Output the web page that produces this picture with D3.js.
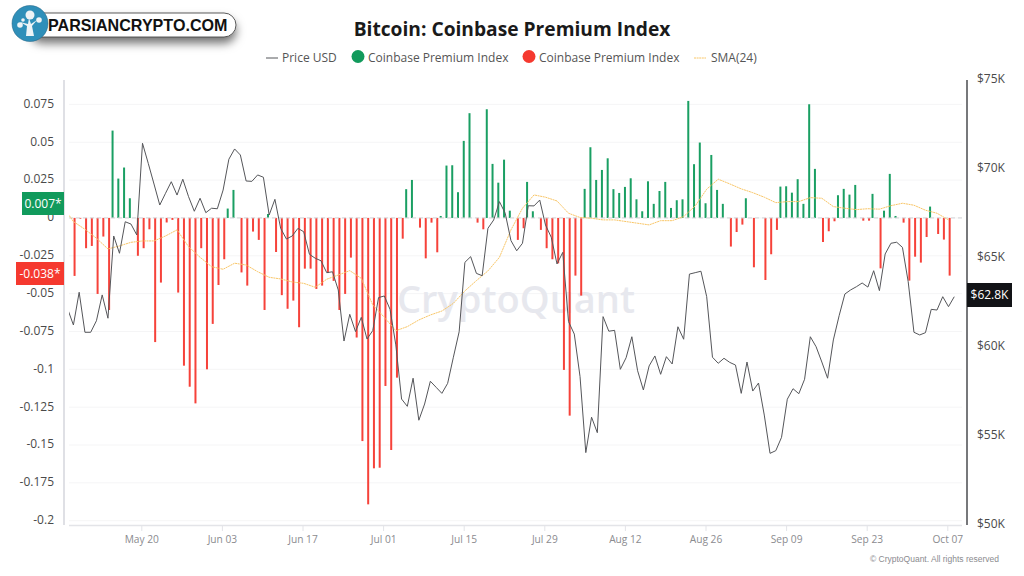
<!DOCTYPE html>
<html>
<head>
<meta charset="utf-8">
<script src="https://cdn.jsdelivr.net/npm/d3@7"></script>
<style>
  html, body { margin: 0; padding: 0; background: #fff; }
  text { font-family: "Open Sans", sans-serif; }
</style>
</head>
<body>
<svg width="1024" height="576"></svg>
<script>
var leftTicks = [0.075, 0.05, 0.025, 0, -0.025, -0.05, -0.075, -0.1, -0.125, -0.15, -0.175, -0.2];
var priceTicks = [75, 70, 65, 60, 55, 50];
var dateTicks = ["2024-05-20", "2024-06-03", "2024-06-17", "2024-07-01", "2024-07-15", "2024-07-29",
                 "2024-08-12", "2024-08-26", "2024-09-09", "2024-09-23", "2024-10-07"];

// daily, first value is May 08
var premium = [
  -0.0383, -0.0005, -0.02, -0.0185, -0.0502, -0.0123, -0.0608, 0.0577, 0.026, 0.0333,
  0.013, -0.025, -0.02, -0.0075, -0.082, -0.0427, -0.003, -0.0013, -0.0493, -0.0976,
  -0.1115, -0.1225, -0.02, -0.1, -0.07, -0.0443, -0.0273, 0.0062, 0.0185, -0.036,
  -0.0447, -0.009, -0.0145, -0.0608, 0.0026, -0.0225, -0.051, -0.06, -0.0546, -0.0722,
  -0.0335, -0.0335, -0.0469, -0.0447, -0.0364, -0.0416, -0.0608, -0.0502, -0.0262, -0.079,
  -0.1474, -0.1892, -0.1654, -0.165, -0.111, -0.1533, -0.1055, -0.0137, 0.019, 0.0251,
  -0.0064, -0.0267, -0.0031, -0.0227, 0.0013, 0.0346, 0.0348, 0.017, 0.0509, 0.0692,
  -0.0031, -0.0075, 0.0718, 0.0357, 0.0233, 0.0385, 0.0048, -0.0145, -0.0068, 0.0238,
  0.0044, -0.0079, -0.02, -0.0273, -0.03, -0.1004, -0.1306, -0.0381, -0.0513, 0.0192,
  0.0467, 0.0251, 0.0317, 0.0394, 0.019, 0.0165, 0.0205, 0.0262, 0.0123, 0.0044,
  0.0242, 0.0093, 0.0178, 0.0238, 0.0066, 0.0117, 0.0123, 0.0773, 0.0355, 0.0498,
  0.0097, 0.0416, 0.0185, 0.0093, -0.0189, -0.0093, -0.0044, 0.013, -0.0326, 0,
  -0.041, -0.024, -0.0079, 0.0207, 0.0209, 0.0167, 0.0256, 0.0093, 0.0751, 0.0324,
  -0.0159, -0.0088, -0.0022, 0.015, 0.0192, 0.0154, 0.0218, -0.0018, -0.0018, 0.0159,
  -0.0333, 0.0048, 0.0291, 0.0013, -0.0031, -0.0414, -0.0256, -0.0295, -0.0126, 0.0075,
  -0.0106, -0.0143, -0.0381
];

// daily in $K, first value is May 07
var price = [
  62.08, 61.18, 63.02, 60.77, 60.77, 61.42, 62.87, 61.56, 66.18, 65.21,
  66.98, 66.85, 66.24, 71.39, 70.26, 69.1, 67.92, 68.58, 69.23, 68.48,
  69.37, 68.39, 67.57, 68.3, 67.49, 67.74, 67.71, 68.76, 70.49, 71.07,
  70.73, 69.27, 69.25, 69.61, 69.48, 67.36, 68.24, 66.61, 66.01, 66.18,
  66.61, 66.42, 65.15, 64.93, 64.79, 64.12, 64.17, 63.15, 60.28, 61.78,
  60.81, 61.61, 60.39, 60.87, 62.72, 62.81, 62.06, 60.06, 57.02, 56.61,
  58.19, 55.83, 56.74, 58.02, 57.68, 57.34, 57.9, 59.37, 60.8, 64.7,
  65.02, 64.08, 63.95, 66.61, 67.08, 68.11, 67.46, 65.92, 65.35, 65.77,
  67.88, 67.87, 68.2, 66.8, 66.11, 64.61, 65.26, 61.37, 60.67, 58.28,
  54.01, 56, 55.13, 61.65, 60.83, 60.88, 58.69, 59.34, 60.52, 58.61,
  57.53, 58.88, 59.44, 58.41, 59.4, 58.99, 61.08, 60.38, 64.04, 64.12,
  64.2, 62.77, 59.37, 59.03, 59.31, 59.08, 58.93, 57.34, 59.1, 57.47,
  57.92, 56.12, 53.97, 54.12, 54.87, 57.01, 57.6, 57.32, 58.13, 60.52,
  59.96, 59.1, 58.19, 60.34, 61.7, 62.92, 63.15, 63.33, 63.54, 63.31,
  64.23, 63.11, 65.17, 65.77, 65.83, 65.54, 63.61, 60.77, 60.62, 60.75,
  62.06, 62.02, 62.77, 62.21, 62.77
];

// read every second day, first value is May 06
var sma = [
  0.0086, -0.0024, -0.0075, -0.0134, -0.0205, -0.0185, -0.0161, -0.0152, -0.0152, -0.0119,
  -0.0079, -0.019, -0.026, -0.0322, -0.0339, -0.0299, -0.0311, -0.0355, -0.0392, -0.0403,
  -0.0423, -0.0432, -0.0458, -0.0405, -0.0377, -0.0348, -0.0399, -0.0575, -0.0656, -0.0745,
  -0.0718, -0.0674, -0.0641, -0.0615, -0.0564, -0.0482, -0.0414, -0.035, -0.026, -0.0079,
  0.0064, 0.0152, 0.0137, 0.0112, 0.0031, 0.0003, -0.0002, -0.0013, -0.0013, -0.0024,
  -0.0035, -0.0046, -0.0018, -0.0018, 0.0009, 0.0079, 0.019, 0.0256, 0.0225, 0.0192,
  0.0167, 0.0137, 0.0101, 0.0108, 0.0108, 0.0134, 0.013, 0.0075, 0.0064, 0.0055,
  0.0061, 0.0058, 0.0081, 0.0097, 0.0084, 0.0051, 0.0031, -0.0013
];

var legendItems = ["Price USD", "Coinbase Premium Index", "Coinbase Premium Index", "SMA(24)"];

var green = "#1a9f63", red = "#f6423a";
var parseDay = d3.utcParse("%Y-%m-%d");

// points sit a few hours after the tick of their day
function day(start, i, step) {
  return d3.utcHour.offset(d3.utcDay.offset(parseDay(start), i * step), 5);
}

var svg = d3.select("svg");

var x = d3.scaleUtc()
    .domain([parseDay("2024-05-20"), parseDay("2024-10-07")])
    .range([141.3, 947.3]);
var y = d3.scaleLinear().domain([-0.2, 0.075]).range([520.7, 104.4]);
var yPrice = d3.scaleLinear().domain([50, 75]).range([524, 79]);

svg.append("defs").append("clipPath").attr("id", "plot")
  .append("rect").attr("x", 69).attr("y", 70).attr("width", 893).attr("height", 456);

var shadow = svg.select("defs").append("filter").attr("id", "logoShadow")
    .attr("x", "-20%").attr("y", "-50%").attr("width", "140%").attr("height", "250%");
shadow.append("feDropShadow").attr("dx", 0).attr("dy", 6).attr("stdDeviation", 5)
    .attr("flood-color", "#000").attr("flood-opacity", 0.55);

// grid
svg.append("g").selectAll("line").data(leftTicks).enter().append("line")
    .attr("x1", 69).attr("x2", 962)
    .attr("y1", function(d) { return y(d); })
    .attr("y2", function(d) { return y(d); })
    .attr("stroke", "#f5f5f6");

// watermark
svg.append("text").text("CryptoQuant")
    .attr("x", 516).attr("y", 313)
    .attr("text-anchor", "middle")
    .attr("font-size", 38).attr("font-weight", 600)
    .attr("fill", "#e7e8ee");

// bars, the two series are grouped side by side in each day
var barW = 2, groupGap = 1.15;
var bars = svg.append("g");
bars.selectAll("rect").data(premium).enter().append("rect")
    .attr("x", function(d, i) {
        var mid = x(day("2024-05-08", i, 1));
        return (d < 0 ? mid + groupGap : mid - groupGap) - barW / 2;
    })
    .attr("y", function(d) { return y(Math.max(d, 0)); })
    .attr("width", barW)
    .attr("height", function(d) { return Math.abs(y(d) - y(0)); })
    .attr("fill", function(d) { return d < 0 ? red : green; });

// zero line
svg.append("line")
    .attr("x1", 69).attr("x2", 962)
    .attr("y1", y(0)).attr("y2", y(0))
    .attr("stroke", "#d3d3d6")
    .attr("stroke-dasharray", "4,3");

var smaLine = d3.line()
    .x(function(d, i) { return x(day("2024-05-06", i, 2)); })
    .y(function(d) { return y(d); });
svg.append("path").datum(sma)
    .attr("clip-path", "url(#plot)")
    .attr("d", smaLine)
    .attr("fill", "none")
    .attr("stroke", "#f9c667")
    .attr("stroke-width", 1)
    .attr("stroke-dasharray", "2,0.6");

var priceLine = d3.line()
    .x(function(d, i) { return x(day("2024-05-07", i, 1)); })
    .y(function(d) { return yPrice(d); });
svg.append("path").datum(price)
    .attr("clip-path", "url(#plot)")
    .attr("d", priceLine)
    .attr("fill", "none")
    .attr("stroke", "#55565a")
    .attr("stroke-width", 1);

// left axis
var leftAxis = d3.axisLeft(y).tickValues(leftTicks).tickSize(0).tickPadding(10)
    .tickFormat(function(d) { return String(d); });
var gLeft = svg.append("g").attr("transform", "translate(64,-1)").call(leftAxis);
gLeft.select(".domain").remove();
gLeft.selectAll("text").attr("font-size", 12).attr("fill", "#4a4a4a")
    .style("font-family", '"Open Sans", sans-serif');
svg.append("line").attr("x1", 64).attr("x2", 64).attr("y1", 80).attr("y2", 525)
    .attr("stroke", "#dfe0e5").attr("stroke-width", 2);

// right axis
var rightAxis = d3.axisRight(yPrice).tickValues(priceTicks).tickSize(0).tickPadding(10)
    .tickFormat(function(d) { return "$" + d + "K"; });
var gRight = svg.append("g").attr("transform", "translate(967,0)").call(rightAxis);
gRight.select(".domain").remove();
gRight.selectAll("text").attr("font-size", 12).attr("fill", "#4a4a4a")
    .style("font-family", '"Open Sans", sans-serif');
svg.append("line").attr("x1", 967).attr("x2", 967).attr("y1", 80).attr("y2", 525)
    .attr("stroke", "#77787b").attr("stroke-width", 2);

// date axis
var bottomAxis = d3.axisBottom(x)
    .tickValues(dateTicks.map(parseDay))
    .tickSize(5).tickPadding(5)
    .tickFormat(d3.utcFormat("%b %d"));
var gBottom = svg.append("g").attr("transform", "translate(0,526)").call(bottomAxis);
gBottom.select(".domain").remove();
gBottom.selectAll("line").attr("stroke", "#e3e4e8");
gBottom.selectAll("text").attr("font-size", 10.2).attr("fill", "#8b8b8f")
    .style("font-family", '"Open Sans", sans-serif');
svg.append("line").attr("x1", 69).attr("x2", 962).attr("y1", 525.5).attr("y2", 525.5)
    .attr("stroke", "#e3e4e8").attr("stroke-width", 1.5);

// last value badges
function badge(bx, by, w, h, fill, label, tx, anchor) {
    svg.append("rect").attr("x", bx).attr("y", by).attr("width", w).attr("height", h).attr("fill", fill);
    svg.append("text").text(label).attr("x", tx).attr("y", by + h / 2 + 4)
        .attr("text-anchor", anchor).attr("font-size", 12).attr("fill", "#fff");
}
badge(22, 192, 42, 23, "#119a5c", "0.007*", 43, "middle");
badge(16, 262, 48, 23, "#f5392f", "-0.038*", 40, "middle");
badge(967, 283, 45, 24, "#121316", "$62.8K", 989.5, "middle");

// title and legend
svg.append("text").text("Bitcoin: Coinbase Premium Index")
    .attr("x", 512).attr("y", 36)
    .attr("text-anchor", "middle")
    .attr("font-size", 19.2).attr("font-weight", 700)
    .attr("fill", "#1a1a1a");

var legendX = [282, 368, 539, 711];
var legend = svg.append("g").selectAll("text").data(legendItems).enter().append("text")
    .text(function(d) { return d; })
    .attr("x", function(d, i) { return legendX[i]; })
    .attr("y", 62)
    .attr("font-size", 12)
    .attr("fill", "#555");
svg.append("line").attr("x1", 266).attr("x2", 278).attr("y1", 58).attr("y2", 58).attr("stroke", "#55565a");
svg.append("circle").attr("cx", 358).attr("cy", 56.5).attr("r", 6.5).attr("fill", "#119a5c");
svg.append("circle").attr("cx", 529).attr("cy", 56.5).attr("r", 6.5).attr("fill", "#f5392f");
svg.append("line").attr("x1", 694).attr("x2", 706).attr("y1", 58).attr("y2", 58)
    .attr("stroke", "#f9c667").attr("stroke-dasharray", "2,0.6");

// footer
svg.append("text").text("© CryptoQuant. All rights reserved")
    .attr("x", 999).attr("y", 562)
    .attr("text-anchor", "end")
    .attr("font-size", 8.5)
    .attr("fill", "#8b8b8f")
    .style("font-family", '"Liberation Sans", sans-serif');

// logo
var logo = svg.append("g");
logo.append("rect").attr("x", 30).attr("y", 13).attr("width", 206).attr("height", 24).attr("rx", 12)
    .attr("fill", "#fff").attr("stroke", "#333").attr("stroke-width", 0.8)
    .attr("filter", "url(#logoShadow)");
logo.append("text").text("PARSIANCRYPTO.COM")
    .attr("x", 48).attr("y", 31)
    .attr("font-size", 16.1).attr("font-weight", 700)
    .attr("fill", "#111")
    .style("font-family", '"Liberation Sans", sans-serif');
logo.append("circle").attr("cx", 30).attr("cy", 23.5).attr("r", 18)
    .attr("fill", "#2f8fb9").attr("stroke", "#1d5f80").attr("stroke-width", 0.5);
logo.append("path").attr("d", "M26 36 L27 26 L20 22 L28 24 L29 18 L31 24 L37 20 L32 26 L34 36 Z").attr("fill", "#eef3f6");
var blobs = [[30, 15, 4.5], [20, 25, 2.8], [39, 20, 2.8], [23, 20, 1.8]];
logo.selectAll("circle.blob").data(blobs).enter().append("circle")
    .attr("class", "blob")
    .attr("cx", function(d) { return d[0]; })
    .attr("cy", function(d) { return d[1]; })
    .attr("r", function(d) { return d[2]; })
    .attr("fill", "#eef3f6");
</script>
</body>
</html>
